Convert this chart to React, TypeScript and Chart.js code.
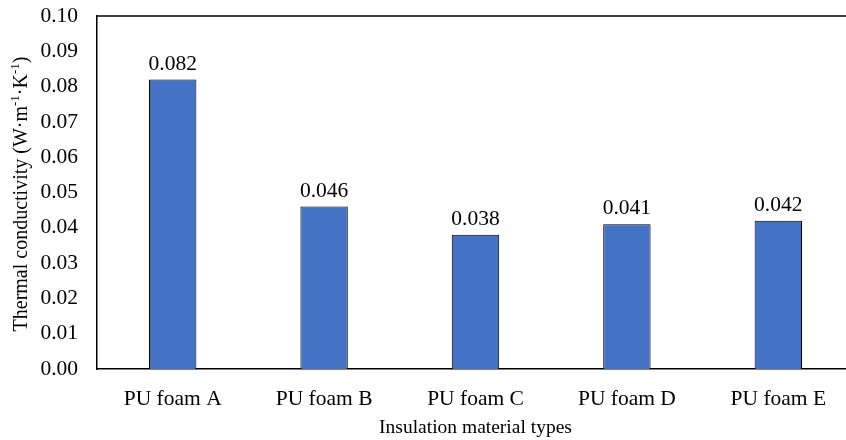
import React, { useEffect, useRef } from "react";
import { Chart, registerables } from "chart.js";

Chart.register(...registerables);

const categories = ["PU foam A", "PU foam B", "PU foam C", "PU foam D", "PU foam E"];
const conductivity = [0.082, 0.046, 0.038, 0.041, 0.042];
const valueLabels = ["0.082", "0.046", "0.038", "0.041", "0.042"];
const yMin = 0;
const yMax = 0.1;
const yStep = 0.01;
const xTitle = "Insulation material types";
const yTitleParts = [
  { text: "Thermal conductivity (W·m", sup: false },
  { text: "-1", sup: true },
  { text: "·K", sup: false },
  { text: "-1", sup: true },
  { text: ")", sup: false },
];

const FONT = "'Liberation Serif', 'Times New Roman', serif";

const decorPlugin = {
  id: "decor",
  afterDatasetsDraw(chart: any) {
    const { ctx, chartArea } = chart;
    ctx.save();
    ctx.strokeStyle = "#000";
    ctx.lineWidth = 1.5;
    ctx.beginPath();
    ctx.moveTo(chartArea.left, chartArea.top);
    ctx.lineTo(chartArea.right, chartArea.top);
    ctx.stroke();
    const meta = chart.getDatasetMeta(0);
    ctx.fillStyle = "#000";
    ctx.font = `21.5px ${FONT}`;
    ctx.textAlign = "center";
    ctx.textBaseline = "alphabetic";
    meta.data.forEach((bar: any, i: number) => {
      ctx.fillText(valueLabels[i], bar.x, bar.y - 10);
    });
    ctx.font = `19.5px ${FONT}`;
    ctx.textBaseline = "middle";
    ctx.fillText(xTitle, (chartArea.left + chartArea.right) / 2, 428);
    const mainFont = `20px ${FONT}`;
    const supFont = `13px ${FONT}`;
    let total = 0;
    const widths = yTitleParts.map((p) => {
      ctx.font = p.sup ? supFont : mainFont;
      const w = ctx.measureText(p.text).width;
      total += w;
      return w;
    });
    ctx.translate(20, 194);
    ctx.rotate(-Math.PI / 2);
    ctx.textAlign = "left";
    ctx.textBaseline = "alphabetic";
    let x = -total / 2;
    yTitleParts.forEach((p, i) => {
      ctx.font = p.sup ? supFont : mainFont;
      ctx.fillText(p.text, x, p.sup ? -1 : 7);
      x += widths[i];
    });
    ctx.restore();
  },
};

export default function App() {
  const ref = useRef<HTMLCanvasElement | null>(null);
  useEffect(() => {
    if (!ref.current) return;
    const chart = new Chart(ref.current, {
      type: "bar",
      data: {
        labels: categories,
        datasets: [
          {
            data: conductivity,
            backgroundColor: "#4472C4",
            borderColor: "#000",
            borderWidth: 1,
            barPercentage: 0.313,
            categoryPercentage: 1,
          },
        ],
      },
      options: {
        responsive: false,
        animation: false,
        layout: { padding: { left: 0, top: 16, right: 0, bottom: 0 } },
        plugins: {
          legend: { display: false },
          tooltip: { enabled: false },
          title: { display: false },
        },
        scales: {
          x: {
            grid: { display: false, drawTicks: false },
            border: { display: true, color: "#000", width: 1.5 },
            ticks: {
              color: "#000",
              font: { family: FONT, size: 21.5 },
              padding: 17,
              maxRotation: 0,
            },
            afterFit(scale: any) {
              scale.height = 71;
              scale.paddingLeft = 0;
              scale.paddingRight = 0;
            },
          },
          y: {
            min: yMin,
            max: yMax,
            grid: { display: false, drawTicks: false },
            border: { display: true, color: "#000", width: 1.5 },
            ticks: {
              stepSize: yStep,
              color: "#000",
              font: { family: FONT, size: 21.5 },
              padding: 19,
              callback: (v: any) => Number(v).toFixed(2),
            },
            afterFit(scale: any) {
              scale.width = 97;
              scale.paddingTop = 0;
              scale.paddingBottom = 0;
            },
          },
        },
      },
      plugins: [decorPlugin],
    });
    return () => chart.destroy();
  }, []);
  return (
    <div style={{ position: "absolute", left: 0, top: 0, width: 846, height: 440, overflow: "hidden", background: "#fff" }}>
      <canvas ref={ref} width={854} height={440} style={{ width: 854, height: 440, display: "block" }} />
    </div>
  );
}
